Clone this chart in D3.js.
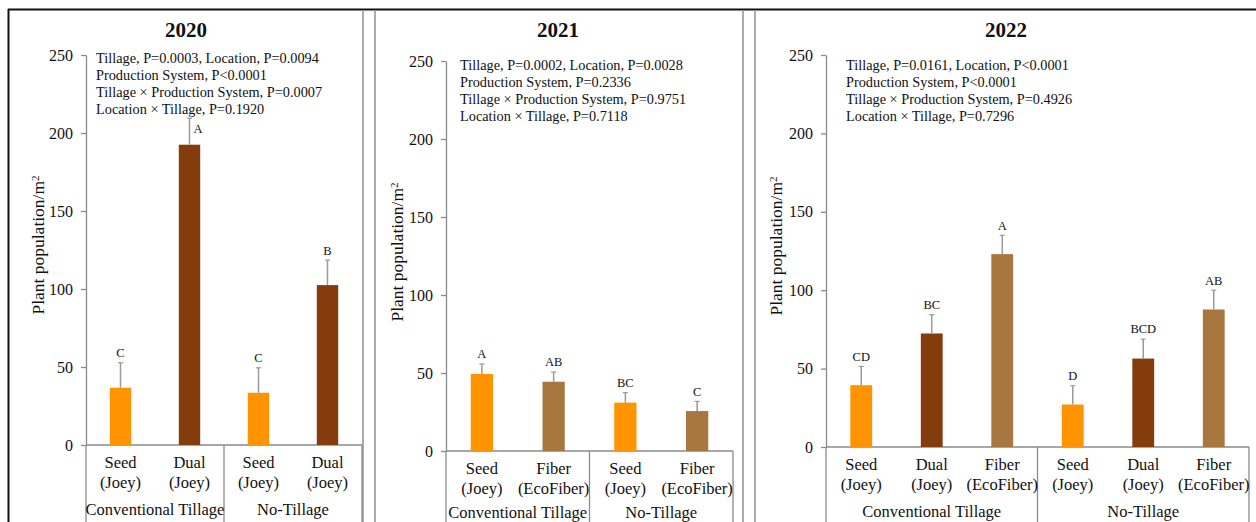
<!DOCTYPE html>
<html>
<head>
<meta charset="utf-8">
<script src="https://cdn.jsdelivr.net/npm/d3@7"></script>
<style>
  html, body { margin: 0; padding: 0; background: #fff; }
  svg { display: block; }
  text { font-family: "Liberation Serif", "Times New Roman", serif; fill: #111; }
</style>
</head>
<body>
<svg id="chart" width="1256" height="522"></svg>
<script>
// ---- data ----
const years = ["2020", "2021", "2022"];
const groups = ["Conventional Tillage", "No-Tillage"];

const systems2020 = ["Seed", "Dual"];
const cultivars2020 = ["(Joey)", "(Joey)"];
const means2020 = [36.7, 192.5, 33.5, 102.5];
const errors2020 = [16, 17, 16, 16];
const letters2020 = ["C", "A", "C", "B"];
const stats2020 = [
  "Tillage, P=0.0003, Location, P=0.0094",
  "Production System, P<0.0001",
  "Tillage × Production System, P=0.0007",
  "Location × Tillage, P=0.1920"
];

const systems2021 = ["Seed", "Fiber"];
const cultivars2021 = ["(Joey)", "(EcoFiber)"];
const means2021 = [49.4, 44.4, 31.0, 25.6];
const errors2021 = [6.4, 6.2, 6.4, 6.2];
const letters2021 = ["A", "AB", "BC", "C"];
const stats2021 = [
  "Tillage, P=0.0002, Location, P=0.0028",
  "Production System, P=0.2336",
  "Tillage × Production System, P=0.9751",
  "Location × Tillage, P=0.7118"
];

const systems2022 = ["Seed", "Dual", "Fiber"];
const cultivars2022 = ["(Joey)", "(Joey)", "(EcoFiber)"];
const means2022 = [39.4, 72.4, 123.0, 27.1, 56.4, 87.7];
const errors2022 = [12, 12, 12, 12, 12.4, 12.3];
const letters2022 = ["CD", "BC", "A", "D", "BCD", "AB"];
const stats2022 = [
  "Tillage, P=0.0161, Location, P<0.0001",
  "Production System, P<0.0001",
  "Tillage × Production System, P=0.4926",
  "Location × Tillage, P=0.7296"
];

const yTicks = [0, 50, 100, 150, 200, 250];
const yLabel = "Plant population/m";
const systemColors = { Seed: "#FF9400", Dual: "#843C0C", Fiber: "#A8773F" };

// ---- layout ----
const panels = [
  { year: years[0], systems: systems2020, cultivars: cultivars2020, means: means2020, errors: errors2020, letters: letters2020, stats: stats2020,
    x0: 86, x1: 362, y0: 445, yTop: 55, titleX: 186, labelX: 38, labelY: 245, statsX: 96, statsY: 58, groupDy: 64 },
  { year: years[1], systems: systems2021, cultivars: cultivars2021, means: means2021, errors: errors2021, letters: letters2021, stats: stats2021,
    x0: 446, x1: 733, y0: 451, yTop: 61, titleX: 558, labelX: 397, labelY: 252, statsX: 460, statsY: 65, groupDy: 61 },
  { year: years[2], systems: systems2022, cultivars: cultivars2022, means: means2022, errors: errors2022, letters: letters2022, stats: stats2022,
    x0: 826, x1: 1249, y0: 447, yTop: 55, titleX: 1006, labelX: 776, labelY: 246, statsX: 846, statsY: 65, groupDy: 64 }
];

const svg = d3.select("#chart");
const axisGray = "#8a8a8a";

// frame: heavy top and left rules, paired gray dividers between panels
svg.append("line").attr("x1", 8).attr("x2", 1256).attr("y1", 9.5).attr("y2", 9.5)
  .attr("stroke", "#111").attr("stroke-width", 2.2);
svg.append("line").attr("x1", 8.5).attr("x2", 8.5).attr("y1", 9).attr("y2", 522)
  .attr("stroke", "#111").attr("stroke-width", 2);
[363, 375, 743, 755].forEach(x => {
  svg.append("line").attr("x1", x).attr("x2", x).attr("y1", 10).attr("y2", 522)
    .attr("stroke", "#999").attr("stroke-width", 1.6);
});

panels.forEach(p => {
  const g = svg.append("g");
  const n = p.means.length;
  const per = p.systems.length;
  const keys = d3.range(n);

  const y = d3.scaleLinear().domain([0, 250]).range([p.y0, p.yTop]);
  const x = d3.scaleBand().domain(keys).range([p.x0, p.x1]).paddingInner(0).paddingOuter(0);
  const gx = d3.scaleBand().domain(groups).range([p.x0, p.x1]);
  const barW = x.bandwidth() * 0.31;

  // title
  g.append("text").attr("x", p.titleX).attr("y", 37).attr("text-anchor", "middle")
    .attr("font-size", 21).attr("font-weight", "bold").text(p.year);

  // y axis
  const yAxis = d3.axisLeft(y).tickValues(yTicks).tickSize(5).tickSizeOuter(0).tickPadding(8);
  const ya = g.append("g").attr("transform", `translate(${p.x0},0)`).call(yAxis);
  ya.select(".domain").attr("stroke", axisGray).attr("stroke-width", 1.3);
  ya.selectAll(".tick line").attr("stroke", axisGray).attr("stroke-width", 1.3);
  ya.selectAll(".tick text").attr("font-size", 16).attr("fill", "#111")
    .attr("font-family", "Liberation Serif, Times New Roman, serif");

  // y label
  const yl = g.append("text")
    .attr("transform", `translate(${p.labelX},${p.labelY}) rotate(-90)`)
    .attr("text-anchor", "middle").attr("dy", "0.35em").attr("font-size", 17.5);
  yl.append("tspan").text(yLabel);
  yl.append("tspan").attr("font-size", 11).attr("dy", "-0.5em").text("2");

  // category axis: baseline plus group dividers running to the bottom edge
  g.append("line").attr("x1", p.x0).attr("x2", p.x1).attr("y1", p.y0).attr("y2", p.y0)
    .attr("stroke", axisGray).attr("stroke-width", 1.3);
  [p.x0, gx(groups[1]), p.x1].forEach(xx => {
    g.append("line").attr("x1", xx).attr("x2", xx).attr("y1", p.y0).attr("y2", 522)
      .attr("stroke", axisGray).attr("stroke-width", 1.3);
  });

  // bars
  g.selectAll("rect.bar").data(keys).join("rect").attr("class", "bar")
    .attr("x", i => x(i) + x.bandwidth() / 2 - barW / 2)
    .attr("width", barW)
    .attr("y", i => y(p.means[i]))
    .attr("height", i => y(0) - y(p.means[i]))
    .attr("fill", i => systemColors[p.systems[i % per]]);

  // error bars (upper whisker)
  keys.forEach(i => {
    const cx = x(i) + x.bandwidth() / 2;
    const top = y(p.means[i] + p.errors[i]);
    g.append("line").attr("x1", cx).attr("x2", cx).attr("y1", y(p.means[i])).attr("y2", top)
      .attr("stroke", "#9a9a9a").attr("stroke-width", 1.5);
    g.append("line").attr("x1", cx - 2.5).attr("x2", cx + 2.5).attr("y1", top).attr("y2", top)
      .attr("stroke", "#9a9a9a").attr("stroke-width", 1.2);
  });

  // statistics block
  const statsBottom = p.statsY + (p.stats.length - 1) * 17 + 8;
  const st = g.append("text").attr("font-size", 14.3);
  p.stats.forEach((s, k) => {
    st.append("tspan").attr("x", p.statsX).attr("y", p.statsY + k * 17).attr("dy", "0.35em").text(s);
  });

  // significance letters; set beside the whisker when the stats block is in the way
  keys.forEach(i => {
    const cx = x(i) + x.bandwidth() / 2;
    const top = y(p.means[i] + p.errors[i]);
    let lx = cx, ly = top - 10, anchor = "middle";
    if (ly - 6 < statsBottom) { lx = cx + 4; ly = top + 10; anchor = "start"; }
    g.append("text").attr("x", lx).attr("y", ly).attr("dy", "0.35em")
      .attr("text-anchor", anchor).attr("font-size", 12.5).text(p.letters[i]);
  });

  // category labels
  keys.forEach(i => {
    const cx = x(i) + x.bandwidth() / 2;
    g.append("text").attr("x", cx).attr("y", p.y0 + 17).attr("dy", "0.35em")
      .attr("text-anchor", "middle").attr("font-size", 16.5).text(p.systems[i % per]);
    g.append("text").attr("x", cx).attr("y", p.y0 + 37.5).attr("dy", "0.35em")
      .attr("text-anchor", "middle").attr("font-size", 16.5).text(p.cultivars[i % per]);
  });
  groups.forEach(gr => {
    g.append("text").attr("x", gx(gr) + gx.bandwidth() / 2).attr("y", p.y0 + p.groupDy).attr("dy", "0.35em")
      .attr("text-anchor", "middle").attr("font-size", 16.5).text(gr);
  });
});
</script>
</body>
</html>
